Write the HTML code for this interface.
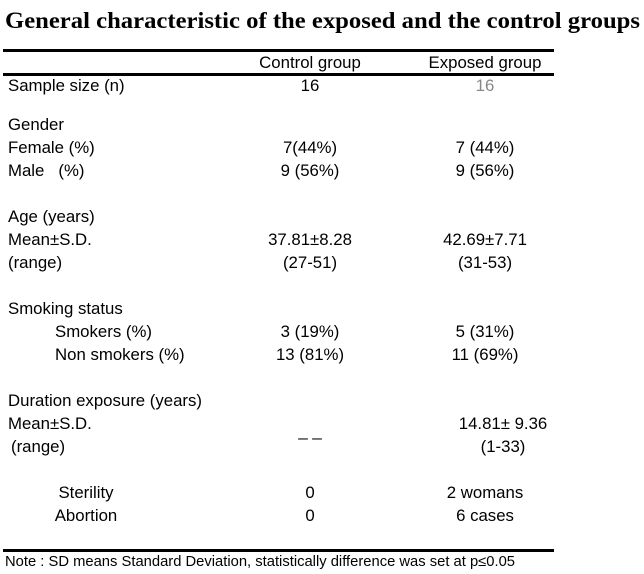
<!DOCTYPE html>
<html><head><meta charset="utf-8"><style>
html,body{margin:0;padding:0;background:#fff;}
svg{display:block}
text{font-family:"Liberation Sans",Arial,sans-serif;font-size:16.8px;fill:#000}
.c{text-anchor:middle}
</style></head><body>
<svg width="644" height="574" viewBox="0 0 644 574">
<text x="5" y="28" textLength="635" lengthAdjust="spacingAndGlyphs" style="font-family:'Liberation Serif',serif;font-weight:bold;font-size:23px">General characteristic of the exposed and the control groups</text>
<rect x="3" y="49" width="551" height="3" fill="#000"/>
<rect x="3" y="73" width="551" height="3" fill="#000"/>
<rect x="3" y="549" width="551" height="3" fill="#000"/>
<text class="c" x="310" y="68">Control group</text>
<text class="c" x="485" y="68">Exposed group</text>

<text x="8" y="91">Sample size (n)</text>
<text class="c" x="310" y="91">16</text>
<text class="c" x="485" y="91" style="fill:#888">16</text>

<text x="8" y="130">Gender</text>
<text x="8" y="153">Female  (%)</text>
<text class="c" x="310" y="153">7(44%)</text>
<text class="c" x="485" y="153">7 (44%)</text>
<text x="8" y="176" xml:space="preserve">Male   (%)</text>
<text class="c" x="310" y="176">9 (56%)</text>
<text class="c" x="485" y="176">9 (56%)</text>

<text x="8" y="222">Age (years)</text>
<text x="8" y="245">Mean±S.D.</text>
<text class="c" x="310" y="245">37.81±8.28</text>
<text class="c" x="485" y="245">42.69±7.71</text>
<text x="8" y="268">(range)</text>
<text class="c" x="310" y="268">(27-51)</text>
<text class="c" x="485" y="268">(31-53)</text>

<text x="8" y="314">Smoking status</text>
<text x="55" y="337">Smokers  (%)</text>
<text class="c" x="310" y="337">3 (19%)</text>
<text class="c" x="485" y="337">5 (31%)</text>
<text x="55" y="360">Non smokers  (%)</text>
<text class="c" x="310" y="360">13 (81%)</text>
<text class="c" x="485" y="360">11 (69%)</text>

<text x="8" y="406">Duration exposure (years)</text>
<text x="8" y="429">Mean±S.D.</text>
<text class="c" x="310" y="436">_ _</text>
<text class="c" x="503" y="429">14.81± 9.36</text>
<text x="11" y="452">(range)</text>
<text class="c" x="503" y="452">(1-33)</text>

<text class="c" x="86" y="498">Sterility</text>
<text class="c" x="310" y="498">0</text>
<text class="c" x="485" y="498">2 womans</text>
<text class="c" x="86" y="521">Abortion</text>
<text class="c" x="310" y="521">0</text>
<text class="c" x="485" y="521">6 cases</text>

<text x="5" y="566" textLength="510" lengthAdjust="spacingAndGlyphs" style="font-size:14.5px">Note : SD means Standard Deviation, statistically difference was set at p≤0.05</text>
</svg>
</body></html>
